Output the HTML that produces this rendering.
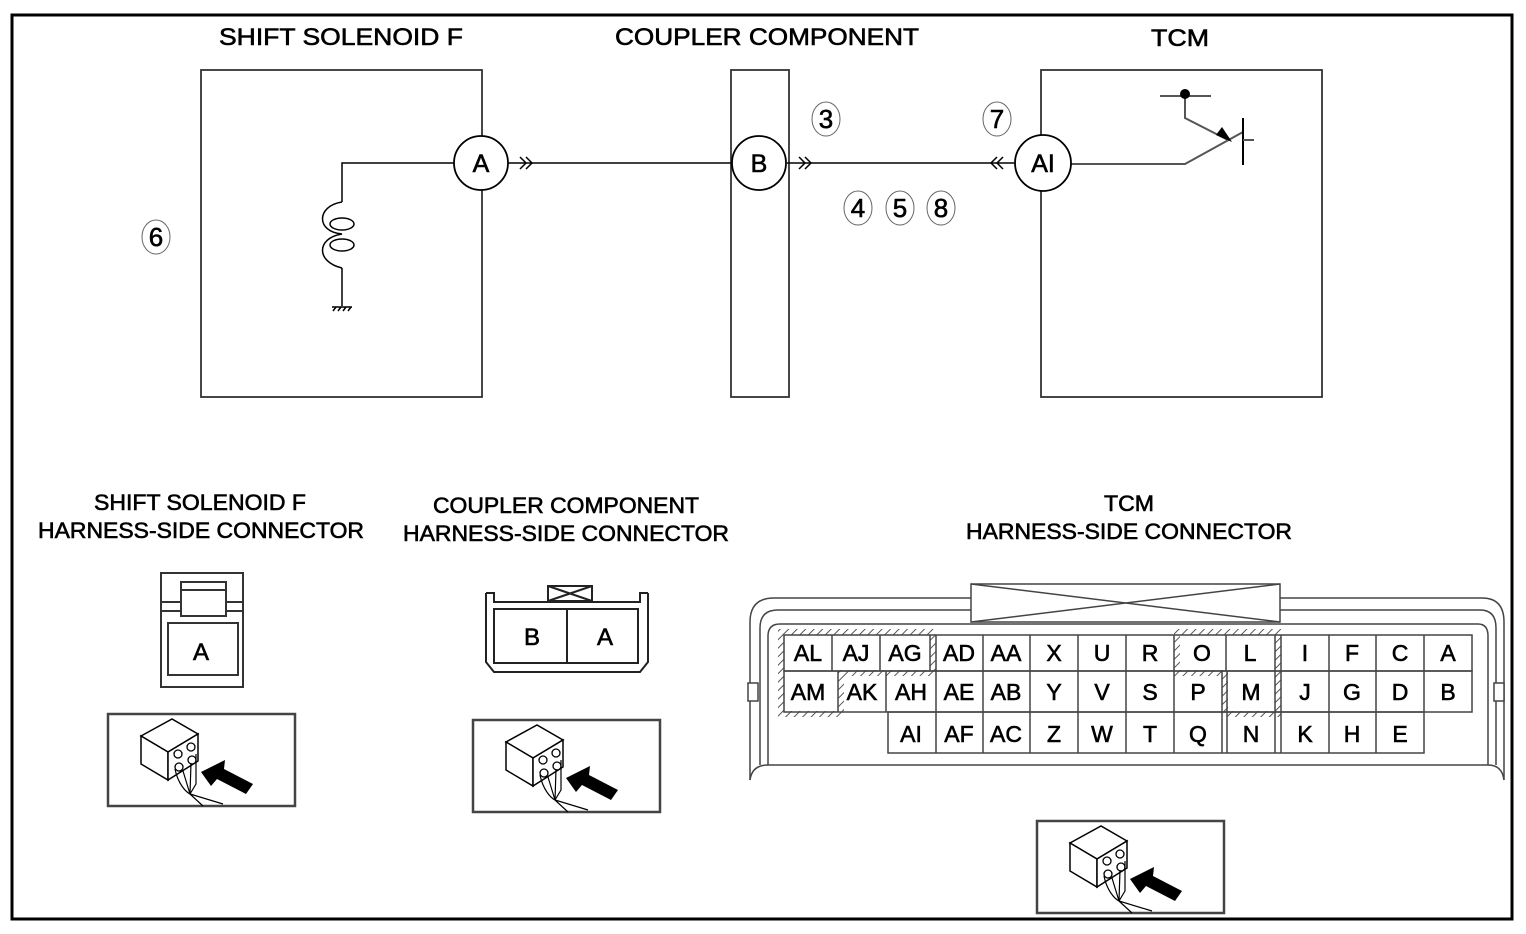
<!DOCTYPE html>
<html><head><meta charset="utf-8"><style>
html,body{margin:0;padding:0;background:#fff}
svg{display:block}
text{font-family:"Liberation Sans",Arial,sans-serif;fill:#000;stroke:#000;stroke-width:0.6}
</style></head><body>
<svg width="1526" height="934" viewBox="0 0 1526 934" xmlns="http://www.w3.org/2000/svg">
<defs>
<pattern id="h" width="6" height="6" patternUnits="userSpaceOnUse" patternTransform="rotate(45)">
<rect width="6" height="6" fill="#fff"/><line x1="0" y1="0" x2="0" y2="6" stroke="#555" stroke-width="2"/>
</pattern>
<g id="icon">
<rect x="0" y="0" width="187" height="92" fill="#fff" stroke="#444" stroke-width="2.5"/>
<polygon points="33,22 64,5 90,20 60,38" fill="#fff" stroke="#000" stroke-width="1.5"/>
<polygon points="33,22 60,38 60,66 33,50" fill="#fff" stroke="#000" stroke-width="1.5"/>
<polygon points="60,38 90,20 90,47 60,66" fill="#fff" stroke="#000" stroke-width="1.5"/>
<circle cx="70" cy="40" r="4" fill="#fff" stroke="#000" stroke-width="1.3"/>
<circle cx="83" cy="33" r="4" fill="#fff" stroke="#000" stroke-width="1.3"/>
<circle cx="71" cy="53" r="4" fill="#fff" stroke="#000" stroke-width="1.3"/>
<circle cx="84" cy="46" r="4" fill="#fff" stroke="#000" stroke-width="1.3"/>
<path d="M67,55 C70,70 78,78 82,80 L95,92 M75,57 L82,80 M83,49 L82,80 M88,40 L88,70 L82,80 L115,90" fill="none" stroke="#000" stroke-width="1.2"/>
<polygon points="93,58 117,46 116,55 145,70 138,80 109,65 103,72" fill="#000"/>
</g>
</defs>
<rect x="12" y="15" width="1500" height="904" fill="#fff" stroke="#000" stroke-width="3"/>

<g font-size="24" text-anchor="middle">
<text x="341" y="45" textLength="244" lengthAdjust="spacingAndGlyphs">SHIFT SOLENOID F</text>
<text x="767" y="45" textLength="304" lengthAdjust="spacingAndGlyphs">COUPLER COMPONENT</text>
<text x="1180" y="46" textLength="58" lengthAdjust="spacingAndGlyphs">TCM</text>
</g>

<g fill="none" stroke="#333" stroke-width="1.8">
<rect x="201" y="70" width="281" height="327"/>
<rect x="731" y="70" width="58" height="327"/>
<rect x="1041" y="70" width="281" height="327"/>
</g>
<g stroke="#000" stroke-width="1.5" fill="none">
<line x1="508" y1="163" x2="731" y2="163"/>
<line x1="787" y1="163" x2="1015" y2="163"/>
<polyline points="455,163 342,163 342,202"/>
<path d="M342,202 C316,206 316,232 342,234 C316,238 316,262 342,268"/>
<ellipse cx="342" cy="224" rx="12" ry="6"/>
<ellipse cx="342" cy="245" rx="12" ry="6"/>
<line x1="342" y1="268" x2="342" y2="306"/>
<line x1="332" y1="307" x2="352" y2="307"/>
<path d="M333,311 l3,-4 M338,311 l3,-4 M343,311 l3,-4 M348,311 l3,-4"/>
<path d="M520,157 l6,6 l-6,6 M526,157 l6,6 l-6,6"/>
<path d="M799,157 l6,6 l-6,6 M805,157 l6,6 l-6,6"/>
<path d="M997,157 l-6,6 l6,6 M1003,157 l-6,6 l6,6"/>
</g>
<g stroke="#555" stroke-width="2" fill="none">
<polyline points="1071,164 1185,164 1243,132"/>
<line x1="1160" y1="96" x2="1211" y2="96"/>
<polyline points="1185,96 1185,118 1228,140"/>
<line x1="1243" y1="118" x2="1243" y2="165" stroke="#000"/>
<line x1="1243" y1="140" x2="1254" y2="140"/>
</g>
<circle cx="1185" cy="94" r="5" fill="#000"/>
<polygon points="1232,142 1216,135 1222,127" fill="#000"/>

<g fill="#fff" stroke="#000" stroke-width="1.8">
<circle cx="481" cy="163" r="27"/>
<circle cx="759" cy="163" r="27"/>
<circle cx="1043" cy="163" r="28"/>
</g>
<g font-size="25" text-anchor="middle">
<text x="481" y="172">A</text>
<text x="759" y="172">B</text>
<text x="1043" y="172">AI</text>
</g>
<g fill="none" stroke="#666" stroke-width="1">
<ellipse cx="826" cy="119" rx="14" ry="17"/>
<ellipse cx="997" cy="119" rx="14" ry="17"/>
<ellipse cx="858" cy="208" rx="14" ry="17"/>
<ellipse cx="900" cy="208" rx="14" ry="17"/>
<ellipse cx="941" cy="208" rx="14" ry="17"/>
<ellipse cx="156" cy="237" rx="14" ry="17"/>
</g>
<g font-size="26" text-anchor="middle">
<text x="826" y="128">3</text><text x="997" y="128">7</text>
<text x="858" y="217">4</text><text x="900" y="217">5</text><text x="941" y="217">8</text>
<text x="156" y="246">6</text>
</g>

<g font-size="22" text-anchor="middle">
<text x="200" y="510" textLength="212" lengthAdjust="spacingAndGlyphs">SHIFT SOLENOID F</text>
<text x="201" y="538" textLength="326" lengthAdjust="spacingAndGlyphs">HARNESS-SIDE CONNECTOR</text>
<text x="566" y="513" textLength="266" lengthAdjust="spacingAndGlyphs">COUPLER COMPONENT</text>
<text x="566" y="541" textLength="326" lengthAdjust="spacingAndGlyphs">HARNESS-SIDE CONNECTOR</text>
<text x="1129" y="511" textLength="50" lengthAdjust="spacingAndGlyphs">TCM</text>
<text x="1129" y="539" textLength="326" lengthAdjust="spacingAndGlyphs">HARNESS-SIDE CONNECTOR</text>
</g>

<g fill="none" stroke="#333" stroke-width="2">
<rect x="161" y="573" width="82" height="114"/>
<line x1="161" y1="602" x2="243" y2="602"/>
<line x1="161" y1="611" x2="243" y2="611"/>
<rect x="181" y="582" width="45" height="34" fill="#fff"/>
<line x1="181" y1="590" x2="226" y2="590"/>
<rect x="168" y="623" width="70" height="52"/>
</g>
<text x="201" y="660" font-size="24" text-anchor="middle">A</text>

<g fill="none" stroke="#222" stroke-width="2">
<polyline points="486,593 486,662 494,672 640,672 648,662 648,593"/>
<polyline points="486,593 494,593 494,602 640,602 640,593 648,593"/>
<rect x="548" y="586" width="44" height="15" fill="#fff"/>
<path d="M548,586 L592,601 M592,586 L548,601"/>
<rect x="494" y="609" width="144" height="54"/>
<line x1="567" y1="609" x2="567" y2="663"/>
</g>
<text x="532" y="645" font-size="24" text-anchor="middle">B</text>
<text x="605" y="645" font-size="24" text-anchor="middle">A</text>

<g fill="none" stroke="#444" stroke-width="1.5">
<path d="M750,780 L750,622 Q750,598 774,598 L1482,598 Q1504,598 1504,622 L1504,780"/>
<path d="M760,765 L760,628 Q760,610 778,610 L1480,610 Q1496,610 1496,628 L1496,765"/>
<path d="M768,765 L768,636 Q768,624 780,624 L1478,624 Q1488,624 1488,636 L1488,765"/>
<path d="M750,780 Q752,765 768,765 L1488,765 Q1502,765 1504,780"/>
<rect x="748" y="683" width="10" height="18" fill="#fff"/>
<rect x="1494" y="683" width="10" height="18" fill="#fff"/>
<rect x="971" y="584" width="309" height="38" fill="#fff"/>
<path d="M971,584 L1280,622 M1280,584 L971,622"/>
</g>
<g fill="none" stroke="url(#h)" stroke-width="6">
<path d="M781,632 L933,632 L933,673 L841,673 L841,714 L781,714 Z"/>
<path d="M1177,632 L1278,632 L1278,714 L1225,714 L1225,673 L1177,673 Z"/>
</g>
<g fill="none" stroke="#444" stroke-width="1.5">
<rect x="784" y="635" width="688" height="36"/>
<path d="M832,635v36 M880,635v36 M930,635v36 M936,635v36 M983,635v36 M1030,635v36 M1078,635v36 M1126,635v36 M1174,635v36 M1226,635v36 M1275,635v36 M1281,635v36 M1329,635v36 M1376,635v36 M1424,635v36"/>
<rect x="784" y="671" width="688" height="41"/>
<path d="M838,671v41 M886,671v41 M936,671v41 M983,671v41 M1030,671v41 M1078,671v41 M1126,671v41 M1174,671v41 M1222,671v41 M1227,671v41 M1275,671v41 M1281,671v41 M1329,671v41 M1376,671v41 M1424,671v41"/>
<rect x="888" y="712" width="536" height="41"/>
<path d="M936,712v41 M983,712v41 M1030,712v41 M1078,712v41 M1126,712v41 M1174,712v41 M1222,712v41 M1227,712v41 M1275,712v41 M1281,712v41 M1329,712v41 M1376,712v41"/>
</g>
<g font-size="23" text-anchor="middle">
<text x="808" y="661">AL</text><text x="856" y="661">AJ</text><text x="905" y="661">AG</text><text x="959" y="661">AD</text><text x="1006" y="661">AA</text><text x="1054" y="661">X</text><text x="1102" y="661">U</text><text x="1150" y="661">R</text><text x="1202" y="661">O</text><text x="1250" y="661">L</text><text x="1305" y="661">I</text><text x="1352" y="661">F</text><text x="1400" y="661">C</text><text x="1448" y="661">A</text>
<text x="808" y="700">AM</text><text x="862" y="700">AK</text><text x="911" y="700">AH</text><text x="959" y="700">AE</text><text x="1006" y="700">AB</text><text x="1054" y="700">Y</text><text x="1102" y="700">V</text><text x="1150" y="700">S</text><text x="1198" y="700">P</text><text x="1251" y="700">M</text><text x="1305" y="700">J</text><text x="1352" y="700">G</text><text x="1400" y="700">D</text><text x="1448" y="700">B</text>
<text x="911" y="742">AI</text><text x="959" y="742">AF</text><text x="1006" y="742">AC</text><text x="1054" y="742">Z</text><text x="1102" y="742">W</text><text x="1150" y="742">T</text><text x="1198" y="742">Q</text><text x="1251" y="742">N</text><text x="1305" y="742">K</text><text x="1352" y="742">H</text><text x="1400" y="742">E</text>
</g>

<use href="#icon" x="108" y="714"/>
<use href="#icon" x="473" y="720"/>
<use href="#icon" x="1037" y="821"/>
</svg>
</body></html>
